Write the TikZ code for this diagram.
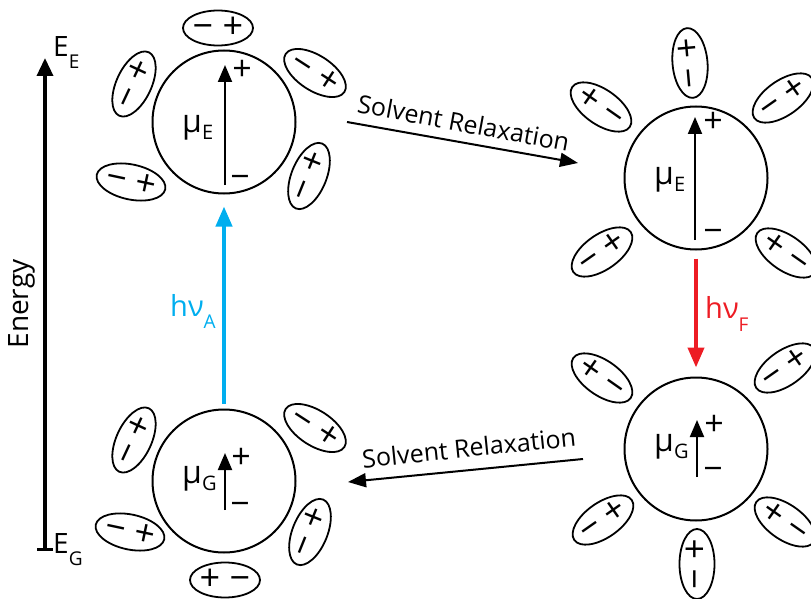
\documentclass[tikz,border=0pt]{standalone}
\usepackage{fontspec}
\setmainfont{Open Sans}
\usetikzlibrary{shapes.geometric,arrows.meta}
\definecolor{absblue}{RGB}{0,174,239}
\definecolor{fluored}{RGB}{237,28,36}
\newcommand\fs[1]{\fontsize{#1}{#1}\selectfont}
\newcommand\solvent[4]{%
  \node[solv,rotate=#3] (#1) at (#2) {};
  \node[sgn,rotate=#3] (#1t) at (#1) {#4};}
\begin{document}
\begin{tikzpicture}[x=1pt,y=-1pt,
  mol/.style={circle,draw,line width=2pt,minimum size=143pt,inner sep=0pt},
  solv/.style={ellipse,draw,line width=1.8pt,minimum width=70pt,minimum height=35pt,inner sep=0pt},
  sgn/.style={font=\fs{36},inner sep=0pt},
  pm/.style={font=\fs{34},inner sep=0pt},
  dip/.style={line width=2pt,-{Triangle[length=17pt,width=14pt]}},
  relax/.style={line width=2pt,-{Triangle[length=18pt,width=14pt]}},
  relaxlbl/.style={font=\fs{25},inner sep=0pt,anchor=base},
  mulbl/.style={inner sep=0pt,anchor=base west},
  photon/.style={line width=4pt,-{Triangle[length=20pt,width=16pt]}}]
\useasboundingbox (0,0) rectangle (811,599);
\clip (0,0) rectangle (811,599);

% energy axis
\coordinate (eb) at (45,551);
\coordinate (et) at (45,58);
\draw[line width=3.5pt,{Bar[width=16pt]}-{Triangle[length=18pt,width=16pt]}] (eb) -- (et);
\node[mulbl] (EE) at (53,57) {\fs{28}E\raisebox{-12pt}{\fs{19}E}};
\node[mulbl] (EG) at (53,553) {\fs{28}E\raisebox{-12pt}{\fs{19}G}};
\node[font=\fs{28},rotate=90,inner sep=0pt] (energy) at (22,304) {Energy};

% molecules
\node[mol] (m1) at (224,122) {};
\node[mol] (m2) at (696,178) {};
\node[mol] (m3) at (224,481) {};
\node[mol] (m4) at (696,449) {};

% dipoles
\coordinate (d1a) at (225,185); \coordinate (d1b) at (225,65);
\coordinate (d2a) at (695,240); \coordinate (d2b) at (695,117);
\coordinate (d3a) at (225,510); \coordinate (d3b) at (225,453);
\coordinate (d4a) at (697,477); \coordinate (d4b) at (697,420);
\draw[dip] (d1a) -- (d1b);
\draw[dip] (d2a) -- (d2b);
\draw[dip] (d3a) -- (d3b);
\draw[dip] (d4a) -- (d4b);
\node[pm] (p1) at (242,70) {+};  \node[pm] (n1) at (240,182) {−};
\node[pm] (p2) at (713,122) {+}; \node[pm] (n2) at (713,236) {−};
\node[pm] (p3) at (241,458) {+}; \node[pm] (n3) at (240,509) {−};
\node[pm] (p4) at (714,425) {+}; \node[pm] (n4) at (713,474) {−};

\node[mulbl] (mu1) at (182,132) {\fs{32}μ\raisebox{-7pt}{\fs{20}E}};
\node[mulbl] (mu2) at (654,184) {\fs{32}μ\raisebox{-7pt}{\fs{20}E}};
\node[mulbl] (mu3) at (182,483) {\fs{32}μ\raisebox{-7pt}{\fs{20}G}};
\node[mulbl] (mu4) at (654,451) {\fs{32}μ\raisebox{-7pt}{\fs{20}G}};

% solvent molecules
\solvent{A1}{218,28}{0}{− +}
\solvent{A2}{134,84}{65}{− +}
\solvent{A3}{315,73}{-33}{− +}
\solvent{A4}{309,176}{68}{− +}
\solvent{A5}{131,182}{-12}{− +}

\solvent{B1}{690,63}{95}{− +}
\solvent{B2}{601,107}{-35}{+ −}
\solvent{B3}{783,98}{35}{− +}
\solvent{B4}{602,252}{35}{− +}
\solvent{B5}{786,253}{-35}{+ −}

\solvent{C1}{134,440}{65}{− +}
\solvent{C2}{315,428}{-33}{− +}
\solvent{C3}{310,532}{68}{− +}
\solvent{C4}{130,532}{-12}{− +}
\solvent{C5}{225,580}{0}{+ −}

\solvent{D1}{602,378}{-35}{+ −}
\solvent{D2}{785,368}{35}{− +}
\solvent{D3}{603,520}{35}{− +}
\solvent{D4}{785,522}{-35}{+ −}
\solvent{D5}{697,564}{90}{− +}

% photons
\draw[photon,absblue,shorten <=5pt,shorten >=12pt] (m3.north) -- (m1.south);
\draw[photon,fluored,shorten <=8pt,shorten >=9pt] (m2.south) -- (m4.north);
\node[mulbl,text=absblue] (hA) at (170,316) {\fs{29}hν\raisebox{-12pt}{\fs{19}A}};
\node[mulbl,text=fluored] (hF) at (705,318) {\fs{29}hν\raisebox{-13pt}{\fs{19}F}};

% solvent relaxation
\coordinate (r1a) at (347,122); \coordinate (r1b) at (578,163);
\coordinate (r2a) at (583,459); \coordinate (r2b) at (348,482);
\draw[relax] (r1a) -- (r1b);
\draw[relax] (r2a) -- (r2b);
\node[relaxlbl,rotate=-10.5] (L1) at (462,132) {Solvent Relaxation};
\node[relaxlbl,rotate=5.9] (L2) at (470,457) {Solvent Relaxation};
\end{tikzpicture}
\end{document}
